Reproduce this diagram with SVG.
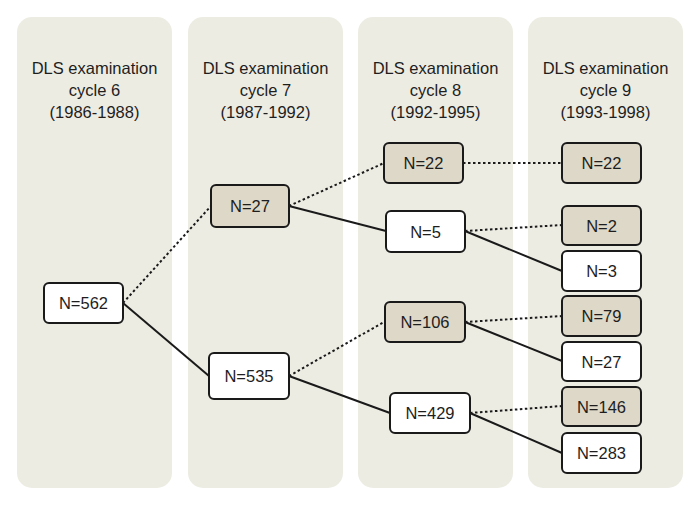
<svg xmlns="http://www.w3.org/2000/svg" width="700" height="506" viewBox="0 0 700 506">
<style>
.col{fill:#edece3}
.hd{font-family:"Liberation Sans",Arial,sans-serif;font-size:16.5px;fill:#1e1e1e;text-anchor:middle}
.n rect{stroke:#1a1a1a;stroke-width:2}
.w rect{fill:#ffffff}
.s rect{fill:#ddd8c7}
.n text{font-family:"Liberation Sans",Arial,sans-serif;font-size:16.5px;fill:#1e1e1e;text-anchor:middle;dominant-baseline:central}
.sol{stroke:#1a1a1a;stroke-width:2;fill:none}
.dot{stroke:#1a1a1a;stroke-width:2;fill:none;stroke-dasharray:2.5 2.5}
</style>
<rect width="700" height="506" fill="#ffffff"/>
<g id="columns">
<g id="col6"><rect class="col" x="17" y="17" width="155" height="471" rx="15"/>
<text class="hd" x="94.5" y="74">DLS examination</text><text class="hd" x="94.5" y="96">cycle 6</text><text class="hd" x="94.5" y="118">(1986-1988)</text></g>
<g id="col7"><rect class="col" x="188" y="17" width="155" height="471" rx="15"/>
<text class="hd" x="265.5" y="74">DLS examination</text><text class="hd" x="265.5" y="96">cycle 7</text><text class="hd" x="265.5" y="118">(1987-1992)</text></g>
<g id="col8"><rect class="col" x="358" y="17" width="155" height="471" rx="15"/>
<text class="hd" x="435.5" y="74">DLS examination</text><text class="hd" x="435.5" y="96">cycle 8</text><text class="hd" x="435.5" y="118">(1992-1995)</text></g>
<g id="col9"><rect class="col" x="528" y="17" width="155" height="471" rx="15"/>
<text class="hd" x="605.5" y="74">DLS examination</text><text class="hd" x="605.5" y="96">cycle 9</text><text class="hd" x="605.5" y="118">(1993-1998)</text></g>
</g>
<g id="connectors">
<line class="dot" x1="123" y1="303" x2="211" y2="206"/>
<line class="sol" x1="123" y1="303" x2="209" y2="376"/>
<line class="dot" x1="289" y1="206" x2="384" y2="163"/>
<line class="sol" x1="289" y1="206" x2="386" y2="231"/>
<line class="dot" x1="289" y1="376" x2="384" y2="322"/>
<line class="sol" x1="289" y1="376" x2="390" y2="413"/>
<line class="dot" x1="463" y1="163" x2="562" y2="163"/>
<line class="dot" x1="465" y1="231" x2="562" y2="225"/>
<line class="sol" x1="465" y1="231" x2="562" y2="271"/>
<line class="dot" x1="465" y1="322" x2="562" y2="316"/>
<line class="sol" x1="465" y1="322" x2="562" y2="361"/>
<line class="dot" x1="470" y1="413" x2="562" y2="406"/>
<line class="sol" x1="470" y1="413" x2="562" y2="453"/>
</g>
<g id="n562" class="n w"><rect x="44" y="283" width="79" height="40" rx="5"/><text x="83.5" y="303">N=562</text></g>
<g id="n27a" class="n s"><rect x="211" y="185" width="78" height="42" rx="5"/><text x="250" y="206">N=27</text></g>
<g id="n535" class="n w"><rect x="209" y="353" width="80" height="46" rx="5"/><text x="249" y="376">N=535</text></g>
<g id="n22a" class="n s"><rect x="384" y="143" width="79" height="40" rx="5"/><text x="423.5" y="163">N=22</text></g>
<g id="n5" class="n w"><rect x="386" y="211" width="79" height="41" rx="5"/><text x="425.5" y="231.5">N=5</text></g>
<g id="n106" class="n s"><rect x="385" y="302" width="80" height="40" rx="5"/><text x="425" y="322">N=106</text></g>
<g id="n429" class="n w"><rect x="390" y="393" width="80" height="40" rx="5"/><text x="430" y="413">N=429</text></g>
<g id="n22b" class="n s"><rect x="562" y="143" width="79" height="40" rx="5"/><text x="601.5" y="163">N=22</text></g>
<g id="n2" class="n s"><rect x="562" y="206" width="79" height="39" rx="5"/><text x="601.5" y="225.5">N=2</text></g>
<g id="n3" class="n w"><rect x="562" y="251" width="79" height="40" rx="5"/><text x="601.5" y="271">N=3</text></g>
<g id="n79" class="n s"><rect x="562" y="296" width="79" height="40" rx="5"/><text x="601.5" y="316">N=79</text></g>
<g id="n27b" class="n w"><rect x="562" y="342" width="79" height="39" rx="5"/><text x="601.5" y="361.5">N=27</text></g>
<g id="n146" class="n s"><rect x="562" y="387" width="79" height="39" rx="5"/><text x="601.5" y="406.5">N=146</text></g>
<g id="n283" class="n w"><rect x="562" y="433" width="79" height="40" rx="5"/><text x="601.5" y="453">N=283</text></g>
</svg>
